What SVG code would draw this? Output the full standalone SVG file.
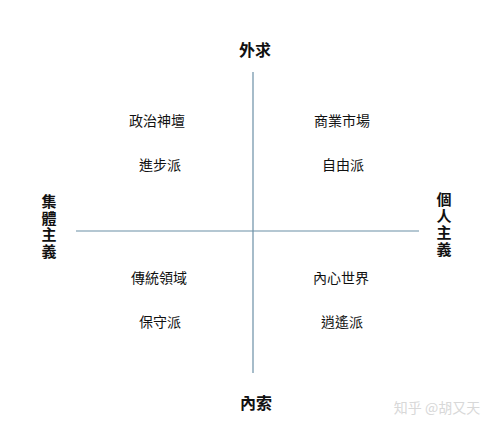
<svg xmlns="http://www.w3.org/2000/svg" width="495" height="431" viewBox="0 0 495 431">
<style>
text{font-family:"Noto Sans CJK TC","Noto Sans CJK SC",sans-serif;fill:#111;text-anchor:middle}
.t{font-size:14px}
.b{font-size:16px;font-weight:bold}
.v{font-size:15px;font-weight:bold;writing-mode:vertical-rl;letter-spacing:1.5px}
.w{font-size:14px;fill:#d8d8d8}
line{stroke:#6b8fa6;stroke-width:1.2}
</style>
<rect width="495" height="431" fill="#fff"/>
<g id="connectors">
<line x1="253" y1="72" x2="253" y2="373"/>
<line x1="76" y1="231" x2="419" y2="231"/>
</g>
<g id="top"><text class="b" x="255" y="56">外求</text></g>
<g id="bottom"><text class="b" x="256" y="409">內索</text></g>
<g id="left"><text class="v" x="49" y="227">集體主義</text></g>
<g id="right"><text class="v" x="444" y="225">個人主義</text></g>
<g id="q1"><text class="t" x="157" y="126">政治神壇</text><text class="t" x="160" y="170">進步派</text></g>
<g id="q2"><text class="t" x="342" y="126">商業市場</text><text class="t" x="343" y="170">自由派</text></g>
<g id="q3"><text class="t" x="159" y="283">傳統領域</text><text class="t" x="160" y="327">保守派</text></g>
<g id="q4"><text class="t" x="341" y="283">內心世界</text><text class="t" x="342" y="327">逍遙派</text></g>
<text class="w" x="437" y="413">知乎 @胡又天</text>
</svg>
